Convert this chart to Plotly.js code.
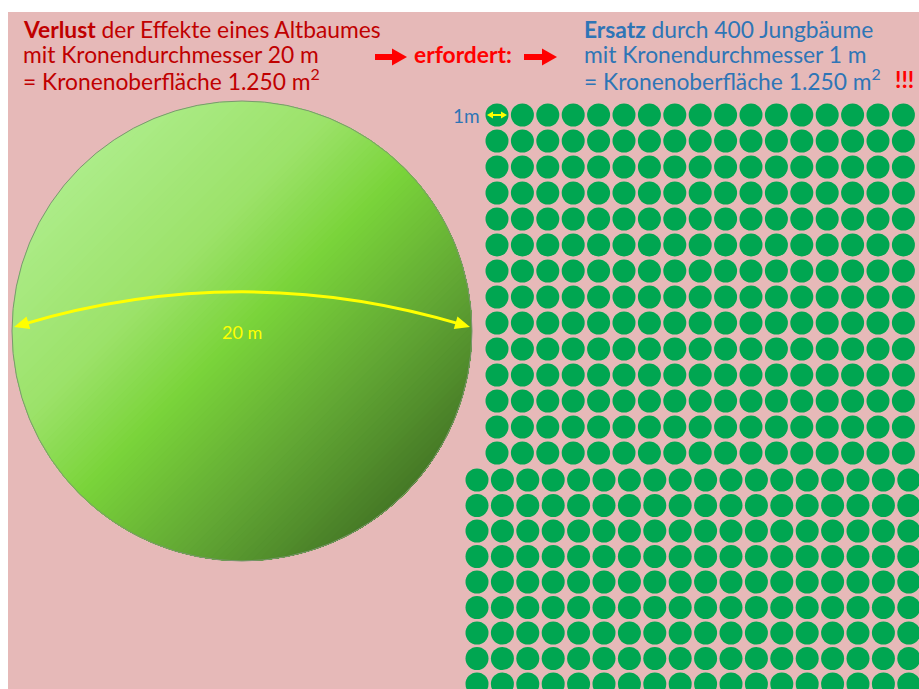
<!DOCTYPE html>
<html><head><meta charset="utf-8">
<script src="https://cdn.plot.ly/plotly-3.0.1.min.js"></script>
<style>html,body{margin:0;padding:0;background:#fff;}#chart{width:919px;height:689px;}</style>
</head><body><div id="chart"></div>
<script>
// ---------- data ----------
const oldTreeCrownDiameter = 20;   // m
const youngTreeCrownDiameter = 1;  // m
const youngTreeCount = 400;
const gridBlockRows = [14, 9];
const gridBlockCols = [17, 18];
const headlineLeft = ["<b>Verlust</b> der Effekte eines Altbaumes", "mit Kronendurchmesser 20 m", "= Kronenoberfläche 1.250 m<sup>2</sup>"];
const headlineRight = ["<b>Ersatz</b> durch 400 Jungbäume", "mit Kronendurchmesser 1 m", "= Kronenoberfläche 1.250 m<sup>2</sup>"];
const connectorText = "<b>erfordert:</b>";
const exclaimText = "<b>!!!</b>";
const bigLabel = "20 m";
const smallLabel = "1m";

// ---------- geometry / style ----------
const pxPerM = 23;
const G = {
  cx: 242, cy: 331,
  blocks: [{x0: 497, y0: 115, dx: 25.4, dy: 26}, {x0: 477, y0: 480, dx: 25.4, dy: 25.5}],
  lineY: [29, 54, 79], leftX: 21, rightX: 582
};
const R = oldTreeCrownDiameter * pxPerM / 2;
const dotSize = youngTreeCrownDiameter * pxPerM;
const font = "Lato, 'Open Sans', sans-serif";
const fs = 22.8;
const darkRed = "#C00000", red = "#FF0000", blue = "#2E75B6", yellow = "#FFFF00";

// small trees grid
const px = [], py = [];
gridBlockRows.forEach((rows, b) => {
  const bl = G.blocks[b];
  for (let r = 0; r < rows; r++)
    for (let c = 0; c < gridBlockCols[b]; c++) {
      if (px.length >= youngTreeCount) continue;
      px.push(bl.x0 + c * bl.dx);
      py.push(bl.y0 + r * bl.dy);
    }
});

// gradient helper
const stops = [[0, [172, 236, 136]], [0.3, [156, 226, 106]], [0.5, [122, 212, 58]], [0.75, [98, 168, 52]], [1, [70, 122, 38]]];
function colAt(t) {
  for (let i = 1; i < stops.length; i++) {
    if (t <= stops[i][0]) {
      const a = stops[i - 1], b = stops[i];
      const f = (t - a[0]) / (b[0] - a[0]);
      const c = a[1].map((v, j) => Math.round(v + (b[1][j] - v) * f));
      return `rgb(${c[0]},${c[1]},${c[2]})`;
    }
  }
  const c = stops[stops.length - 1][1];
  return `rgb(${c[0]},${c[1]},${c[2]})`;
}

const shapes = [];
// background
shapes.push({type: 'rect', xref: 'x', yref: 'y', x0: 8, y0: 12, x1: 919, y1: 689, fillcolor: '#E6B9B8', line: {width: 0}, layer: 'below'});
// big circle as diagonal bands
const N = 90;
for (let k = 0; k < N; k++) {
  const u = -R + 2 * R * k / N;
  const phi = Math.acos(Math.max(-1, Math.min(1, u / R)));
  const steps = 72;
  let p = '';
  for (let s = 0; s <= steps; s++) {
    const th = Math.PI / 4 - phi + 2 * phi * s / steps;
    const x = G.cx + R * Math.cos(th), y = G.cy + R * Math.sin(th);
    p += (s === 0 ? 'M' : 'L') + x.toFixed(2) + ',' + y.toFixed(2);
  }
  p += 'Z';
  shapes.push({type: 'path', xref: 'x', yref: 'y', path: p, fillcolor: colAt(k / (N - 1)), line: {width: 0}, layer: 'below'});
}
shapes.push({type: 'circle', xref: 'x', yref: 'y', x0: G.cx - R, y0: G.cy - R, x1: G.cx + R, y1: G.cy + R, fillcolor: 'rgba(0,0,0,0)', line: {color: '#7C9670', width: 1}, layer: 'below'});

function arrowHead(tx, ty, dx, dy, L, W, color) {
  const n = Math.hypot(dx, dy); dx /= n; dy /= n;
  const bx = tx + dx * L, by = ty + dy * L;
  const qx = -dy, qy = dx;
  return {type: 'path', xref: 'x', yref: 'y', layer: 'below',
    path: `M${tx},${ty}L${bx + qx * W / 2},${by + qy * W / 2}L${bx - qx * W / 2},${by - qy * W / 2}Z`,
    fillcolor: color, line: {width: 0}};
}
// yellow curved double arrow
const A0 = [14, 327], A1 = [470, 327], C = [242, 259];
shapes.push({type: 'path', xref: 'x', yref: 'y', layer: 'below', path: `M${A0[0] + 8},${A0[1] - 2.4} Q${C[0]},${C[1]} ${A1[0] - 8},${A1[1] - 2.4}`, line: {color: yellow, width: 3}});
shapes.push(arrowHead(A0[0], A0[1], C[0] - A0[0], C[1] - A0[1], 15, 13, yellow));
shapes.push(arrowHead(A1[0], A1[1], C[0] - A1[0], C[1] - A1[1], 15, 13, yellow));
// red arrows
[[375, 407], [524, 557]].forEach(([a, b]) => {
  shapes.push({type: 'line', xref: 'x', yref: 'y', layer: 'below', x0: a, y0: 57, x1: b - 12, y1: 57, line: {color: red, width: 6}});
  shapes.push(arrowHead(b, 57, -1, 0, 15, 17, red));
});

// 1m arrow on top of first small circle
const smallArrow = [];
const sx0 = px[0] - 10, sx1 = px[0] + 10, sy = py[0];
smallArrow.push({type: 'line', xref: 'x', yref: 'y', layer: 'above', x0: sx0 + 4, y0: sy, x1: sx1 - 4, y1: sy, line: {color: yellow, width: 2}});
smallArrow.push(Object.assign(arrowHead(sx0, sy, 1, 0, 6, 7, yellow), {layer: 'above'}));
smallArrow.push(Object.assign(arrowHead(sx1, sy, -1, 0, 6, 7, yellow), {layer: 'above'}));

const ann = [];
headlineLeft.forEach((t, i) => ann.push({x: G.leftX, y: G.lineY[i], text: t, font: {family: font, size: fs, color: darkRed}}));
headlineRight.forEach((t, i) => ann.push({x: G.rightX, y: G.lineY[i], text: t, font: {family: font, size: fs, color: blue}}));
ann.push({x: 412, y: G.lineY[1], text: connectorText, font: {family: font, size: fs, color: red}});
ann.push({x: 893, y: G.lineY[2], text: exclaimText, font: {family: font, size: fs, color: red}});
ann.push({x: 482, y: py[0], text: smallLabel, xanchor: 'right', font: {family: font, size: 19, color: blue}});
ann.push({x: G.cx, y: G.cy + 1, text: bigLabel, xanchor: 'center', font: {family: font, size: 18, color: yellow}});
ann.forEach(a => { a.xref = 'x'; a.yref = 'y'; a.showarrow = false; a.xanchor = a.xanchor || 'left'; a.yanchor = 'middle'; });

const trace = {type: 'scatter', mode: 'markers', x: px, y: py, hoverinfo: 'skip',
  marker: {size: dotSize, color: '#00A651', line: {width: 0}}};

Plotly.newPlot('chart', [trace], {
  width: 919, height: 689, autosize: false,
  margin: {l: 0, r: 0, t: 0, b: 0, pad: 0},
  paper_bgcolor: '#ffffff', plot_bgcolor: '#ffffff',
  showlegend: false,
  xaxis: {range: [0, 919], visible: false, fixedrange: true},
  yaxis: {range: [689, 0], visible: false, fixedrange: true},
  shapes: shapes.concat(smallArrow),
  annotations: ann
}, {staticPlot: true, displayModeBar: false});
</script>
</body></html>
